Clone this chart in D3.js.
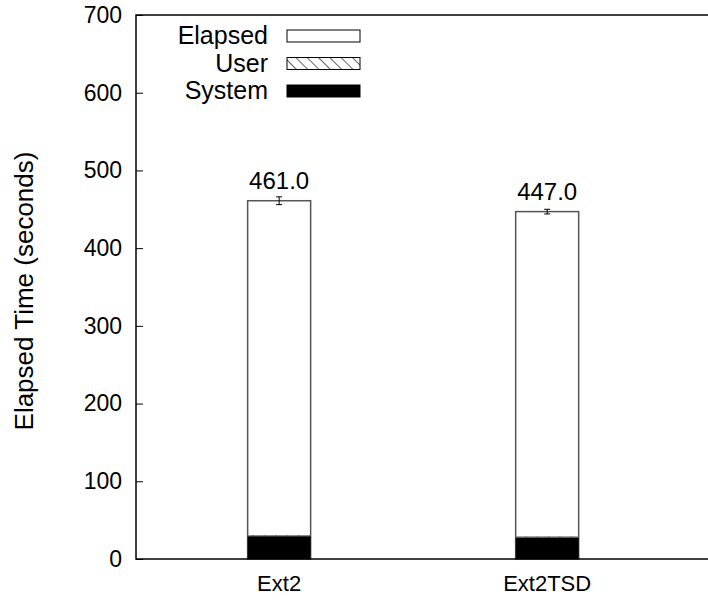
<!DOCTYPE html>
<html lang="en">
<head>
  <meta charset="UTF-8">
  <title>Elapsed Time</title>
  <script src="https://cdn.jsdelivr.net/npm/d3@7"></script>
  <style>
    body { margin: 0; background: #fff; font-family: "Liberation Sans", Arial, sans-serif; }
    svg { display: block; }
  </style>
</head>
<body>
  <svg width="708" height="602"></svg>
  <script>
    // data
    const categories = ['Ext2', 'Ext2TSD'];
    const elapsed = [461.0, 447.0];
    const elapsedErr = [5, 3];
    const user = [1.0, 0.8];
    const system = [29.5, 28.0];
    const yTicks = [0, 100, 200, 300, 400, 500, 600, 700];
    const legendItems = ['Elapsed', 'User', 'System'];

    const plotL = 136, plotR = 708, plotT = 15, plotB = 559;
    const barW = 63;
    const fs = 23;

    const svg = d3.select('svg');

    const defs = svg.append('defs');
    const pat = defs.append('pattern')
      .attr('id', 'hatch')
      .attr('patternUnits', 'userSpaceOnUse')
      .attr('width', 8).attr('height', 8)
      .attr('patternTransform', 'rotate(-45)');
    pat.append('rect').attr('width', 8).attr('height', 8).attr('fill', '#fff');
    pat.append('line')
      .attr('x1', 0).attr('y1', 0).attr('x2', 0).attr('y2', 8)
      .attr('stroke', '#000').attr('stroke-width', 1.2);

    const x = d3.scaleLinear().domain([-0.534, 1.6]).range([plotL, plotR]);
    const y = d3.scaleLinear().domain([0, 700]).range([plotB, plotT]);

    const bars = svg.append('g');
    categories.forEach((c, i) => {
      const cx = x(i);
      // elapsed (white)
      bars.append('rect')
        .attr('x', cx - barW / 2).attr('y', y(elapsed[i]))
        .attr('width', barW).attr('height', y(0) - y(elapsed[i]))
        .attr('fill', '#fff').attr('stroke', '#555').attr('stroke-width', 1.5);
      // system (black)
      bars.append('rect')
        .attr('x', cx - barW / 2).attr('y', y(system[i]))
        .attr('width', barW).attr('height', y(0) - y(system[i]))
        .attr('fill', '#000');
      // user (hatched) stacked on system
      bars.append('rect')
        .attr('x', cx - barW / 2).attr('y', y(system[i] + user[i]))
        .attr('width', barW).attr('height', y(system[i]) - y(system[i] + user[i]))
        .attr('fill', 'url(#hatch)').attr('stroke', '#555').attr('stroke-width', 0.5);

      // error bar
      const eb = bars.append('g').attr('stroke', '#000').attr('stroke-width', 1);
      eb.append('line').attr('x1', cx).attr('x2', cx)
        .attr('y1', y(elapsed[i] - elapsedErr[i])).attr('y2', y(elapsed[i] + elapsedErr[i]));
      [elapsed[i] - elapsedErr[i], elapsed[i] + elapsedErr[i]].forEach(v => {
        eb.append('line').attr('x1', cx - 3).attr('x2', cx + 3)
          .attr('y1', y(v)).attr('y2', y(v));
      });

      svg.append('text')
        .attr('x', cx).attr('y', y(elapsed[i]) - 12)
        .attr('text-anchor', 'middle')
        .attr('font-size', 24)
        .text(elapsed[i].toFixed(1));

      svg.append('text')
        .attr('x', cx).attr('y', 591)
        .attr('text-anchor', 'middle')
        .attr('font-size', 22)
        .text(c);
    });

    // axes frame
    const yAxis = d3.axisLeft(y).tickValues(yTicks).tickSize(-7).tickPadding(14);
    const ga = svg.append('g').attr('transform', `translate(${plotL},0)`).call(yAxis);
    ga.select('.domain').remove();
    ga.selectAll('.tick line').attr('stroke', '#000');
    ga.selectAll('.tick text')
      .attr('font-size', fs)
      .attr('font-family', '"Liberation Sans", Arial, sans-serif')
      .attr('fill', '#000');

    svg.append('path')
      .attr('d', `M${plotR},${plotT}H${plotL}V${plotB}H${plotR}`)
      .attr('fill', 'none').attr('stroke', '#000').attr('stroke-width', 1.5);

    svg.append('text')
      .attr('transform', `translate(33,${(plotT + plotB) / 2 + 4}) rotate(-90)`)
      .attr('text-anchor', 'middle')
      .attr('font-size', 26)
      .text('Elapsed Time (seconds)');

    // legend
    const fills = ['#fff', 'url(#hatch)', '#000'];
    const lg = svg.append('g');
    legendItems.forEach((t, i) => {
      const cy = 36 + i * 27.5;
      lg.append('text')
        .attr('x', 268).attr('y', cy + 8)
        .attr('text-anchor', 'end')
        .attr('font-size', 25)
        .text(t);
      lg.append('rect')
        .attr('x', 287).attr('y', cy - 6)
        .attr('width', 73).attr('height', 12)
        .attr('fill', fills[i])
        .attr('stroke', '#000').attr('stroke-width', 1);
    });
  </script>
</body>
</html>
